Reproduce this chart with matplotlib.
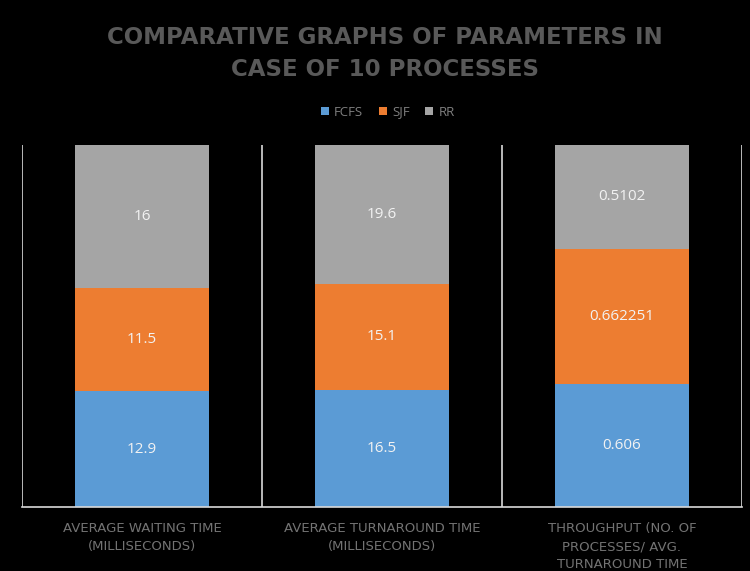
import matplotlib
matplotlib.use('Agg')
import matplotlib.pyplot as plt
import numpy as np

# chart data
categories = ["AVERAGE WAITING TIME\n(MILLISECONDS)",
              "AVERAGE TURNAROUND TIME\n(MILLISECONDS)",
              "THROUGHPUT (NO. OF\nPROCESSES/ AVG.\nTURNAROUND TIME"]
fcfs = [12.9, 16.5, 0.606]
sjf = [11.5, 15.1, 0.662251]
rr = [16, 19.6, 0.5102]
series_names = ["FCFS", "SJF", "RR"]
labels_fcfs = ["12.9", "16.5", "0.606"]
labels_sjf = ["11.5", "15.1", "0.662251"]
labels_rr = ["16", "19.6", "0.5102"]

colors = ["#5B9BD5", "#ED7D31", "#A5A5A5"]

plt.rcParams['font.family'] = ['Open Sans', 'DejaVu Sans']

fig = plt.figure(figsize=(7.5, 5.71), dpi=100, facecolor="black")
ax = fig.add_axes([22/750, 1 - 507/571, 720/750, 362/571])
ax.set_facecolor("black")

series = [np.array(fcfs), np.array(sjf), np.array(rr)]
labels = [labels_fcfs, labels_sjf, labels_rr]
total = series[0] + series[1] + series[2]
x = np.arange(len(categories))
bottom = np.zeros(len(categories))
for vals, name, col, lab in zip(series, series_names, colors, labels):
    frac = vals / total
    ax.bar(x, frac, 0.56, bottom=bottom, color=col, label=name)
    for i in range(len(x)):
        ax.text(x[i], bottom[i] + frac[i] / 2, lab[i], ha="center", va="center",
                color="#F2F2F2", fontsize=11)
    bottom = bottom + frac

ax.set_xlim(-0.5, 2.5)
ax.set_ylim(0, 1)
ax.set_yticks([])
ax.set_xticks(x)
ax.set_xticklabels(categories, color="#737373", fontsize=9.5, linespacing=1.5,
                   family="DejaVu Sans")
ax.tick_params(axis="x", length=0, pad=11)
for s in ["top", "right", "left"]:
    ax.spines[s].set_visible(False)
ax.spines["bottom"].set_color("#D9D9D9")
ax.spines["bottom"].set_linewidth(1.2)
for xv in [-0.5, 0.5, 1.5, 2.5]:
    ax.axvline(xv, color="#D9D9D9", linewidth=1.2)

fig.text(0.513, 1 - 53.5/571, "COMPARATIVE GRAPHS OF PARAMETERS IN\nCASE OF 10 PROCESSES",
         ha="center", va="center", color="#595959", fontsize=16.5, fontweight="bold",
         family="DejaVu Sans", linespacing=1.5)

leg = fig.legend(loc="center", bbox_to_anchor=(0.517, 1 - 112/571), ncol=3, frameon=False,
                 fontsize=9.5, handlelength=0.6, handleheight=0.6, handletextpad=0.4,
                 columnspacing=1.2)
for t in leg.get_texts():
    t.set_color("#7F7F7F")

fig.savefig("out.png", dpi=100, facecolor="black")
